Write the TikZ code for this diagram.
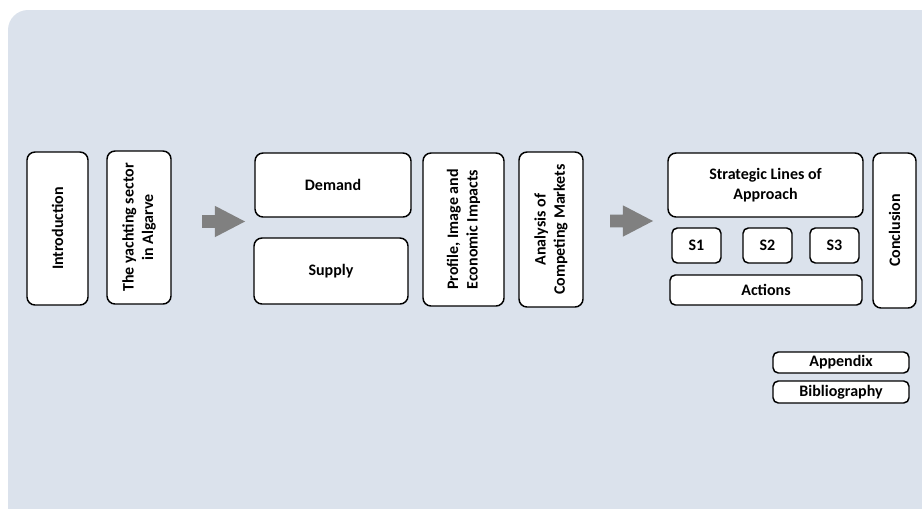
\documentclass[tikz,border=0pt]{standalone}
\usepackage{fontspec}
\setmainfont{Carlito}
\usepackage{tikz}
\usetikzlibrary{
  arrows.meta,
  positioning,
  shapes.arrows
}
\definecolor{panelblue}{RGB}{219, 226, 236}
\definecolor{arrowgrey}{RGB}{128, 128, 128}

\tikzset{
  chapbox/.style={draw=black, line width=1.1pt, fill=white, rounded corners=6pt,
    font=\bfseries\fontsize{12}{14.6}\selectfont, align=center, inner sep=1pt},
  smallbox/.style={chapbox, rounded corners=4pt},
  flowarrow/.style={single arrow, fill=arrowgrey, draw=none, inner xsep=0pt, inner ysep=4.5pt,
    single arrow head extend=7.1pt, single arrow tip angle=55, minimum height=32.25pt}
}

\begin{document}
\begin{tikzpicture}[x=0.75pt, y=-0.75pt]
  \useasboundingbox (0, 0) rectangle (922, 508);
  % ---------- background panel ----------
  \fill[panelblue, rounded corners=15pt] (8, 10) rectangle (940, 530);
  % ---------- first block ----------
  \node[chapbox, rotate=90, minimum width=114.75pt, minimum height=45.75pt] (intro) at (57.5, 228.5) {Introduction};
  \node[chapbox, rotate=90, minimum width=114.75pt, minimum height=48pt] (sector) at (139, 227.5) {The yachting sector\\in Algarve};
  \node[flowarrow] (arrowA) at (217.5, 221.5) {};
  % ---------- second block ----------
  \node[chapbox, minimum width=117pt, minimum height=48pt] (demand) at (333, 185) {Demand};
  \node[chapbox, minimum width=115.5pt, minimum height=49.5pt] (supply) at (331, 271) {Supply};
  \node[chapbox, rotate=90, minimum width=114.75pt, minimum height=60.75pt] (profile) at (463.5, 229.5) {Profile, Image and\\Economic Impacts};
  \node[chapbox, rotate=90, minimum width=116.25pt, minimum height=48pt] (markets) at (551, 229.5) {Analysis of\\Competing Markets};
  \node[flowarrow] (arrowB) at (625.5, 221) {};
  % ---------- third block ----------
  \node[chapbox, minimum width=146.25pt, minimum height=48pt] (lines) at (765.5, 185) {Strategic Lines of\\Approach};
  \foreach \x/\s in {696.5/1, 767.5/2, 834.5/3} {
    \node[smallbox, minimum width=36.75pt, minimum height=26.25pt] (s\s) at (\x, 245.5) {S\s};
  }
  \node[smallbox, minimum width=144pt, minimum height=22.5pt] (actions) at (766, 290) {Actions};
  \node[chapbox, rotate=90, minimum width=116.25pt, minimum height=32.25pt] (conclusion) at (894.5, 230.5) {Conclusion};
  % ---------- annexes ----------
  \node[smallbox, minimum width=102pt, minimum height=15.75pt, inner sep=0pt] (appendix) at (841, 362.5) {Appendix};
  \node[smallbox, minimum width=102pt, minimum height=16.5pt, inner sep=0pt] (biblio) at (841, 392) {Bibliography};
\end{tikzpicture}
\end{document}
